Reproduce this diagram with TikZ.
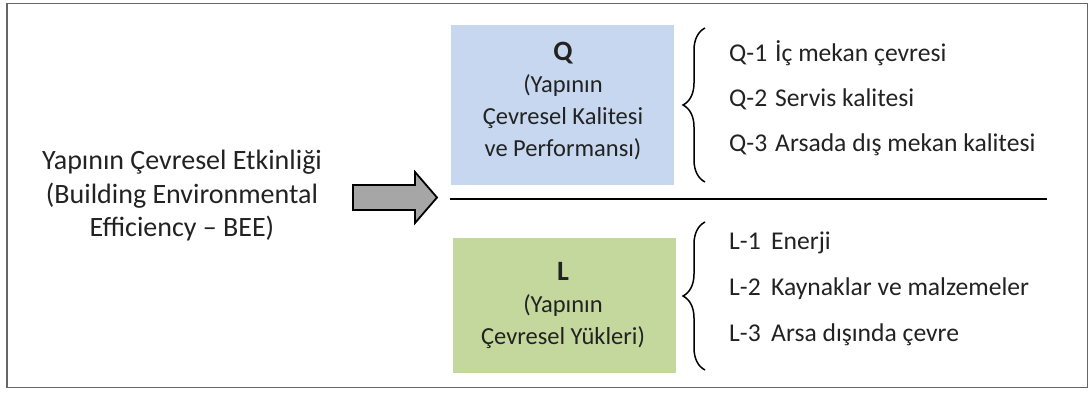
\documentclass[tikz,border=0pt]{standalone}
\usepackage{fontspec}
\setmainfont{Carlito}
\usetikzlibrary{decorations.pathreplacing}
\definecolor{txt}{HTML}{222222}
\definecolor{qfill}{HTML}{C6D7EF}
\definecolor{lfill}{HTML}{C4D79C}
\definecolor{frame}{HTML}{666666}
\definecolor{arrowfill}{HTML}{A6A6A6}
\begin{document}
\begin{tikzpicture}[x=1pt,y=-1pt,
  lefttext/.style={text=txt,align=center,font=\fontsize{28}{33.5}\selectfont,inner sep=0pt},
  boxtext/.style={text=txt,align=center,font=\fontsize{24.5}{32}\selectfont,inner sep=0pt},
  item/.style={text=txt,anchor=west,font=\fontsize{25.6}{30}\selectfont,inner sep=0pt},
  bracestyle/.style={draw=black,line width=1.5pt,decorate,decoration={brace,amplitude=22pt}},
  qbox/.style={fill=qfill,draw=none},
  lbox/.style={fill=lfill,draw=none}]
\useasboundingbox (0,0) rectangle (1092,397);
% frame
\draw[frame,line width=1.5pt] (7,3.5) rectangle (1087.5,387.5);
% left text
\node[lefttext] (bee) at (182,196) {Yapının Çevresel Etkinliği\\(Building Environmental\\Efficiency -- BEE)};
% block arrow
\coordinate (arrtip) at (437,197.5);
\draw[fill=arrowfill,line width=1.8pt,line join=miter]
  (353,185) -- (415,185) -- (415,172) -- (arrtip) -- (415,223) -- (415,210) -- (353,210) -- cycle;
% boxes
\node[qbox,minimum width=223pt,minimum height=160pt,inner sep=0pt] (qb) at (562.5,105) {};
\node[lbox,minimum width=223pt,minimum height=135pt,inner sep=0pt] (lb) at (564.5,305.5) {};
\node[boxtext] (qt) at (563,101) {{\fontsize{28}{32}\selectfont\bfseries Q}\\(Yapının\\Çevresel Kalitesi\\ve Performansı)};
\node[boxtext] (lt) at (563,305) {{\fontsize{28}{32}\selectfont\bfseries L}\\(Yapının\\Çevresel Yükleri)};
% separator line
\coordinate (hl) at (450,199);
\coordinate (hr) at (1047,199);
\draw[line width=2pt] (hl) -- (hr);
% braces
\coordinate (qb1) at (705,182);
\coordinate (qb2) at (705,28);
\coordinate (lb1) at (705,370);
\coordinate (lb2) at (705,222);
\draw[bracestyle] (qb1) -- (qb2);
\draw[bracestyle] (lb1) -- (lb2);
% items
\node[item] (q1) at (729,53) {\makebox[46pt][l]{Q-1}İç mekan çevresi};
\node[item] (q2) at (729,99) {\makebox[46pt][l]{Q-2}Servis kalitesi};
\node[item] (q3) at (729,145) {\makebox[46pt][l]{Q-3}Arsada dış mekan kalitesi};
\node[item] (l1) at (729,243) {\makebox[42pt][l]{L-1}Enerji};
\node[item] (l2) at (729,289) {\makebox[42pt][l]{L-2}Kaynaklar ve malzemeler};
\node[item] (l3) at (729,335) {\makebox[42pt][l]{L-3}Arsa dışında çevre};
\end{tikzpicture}
\end{document}
